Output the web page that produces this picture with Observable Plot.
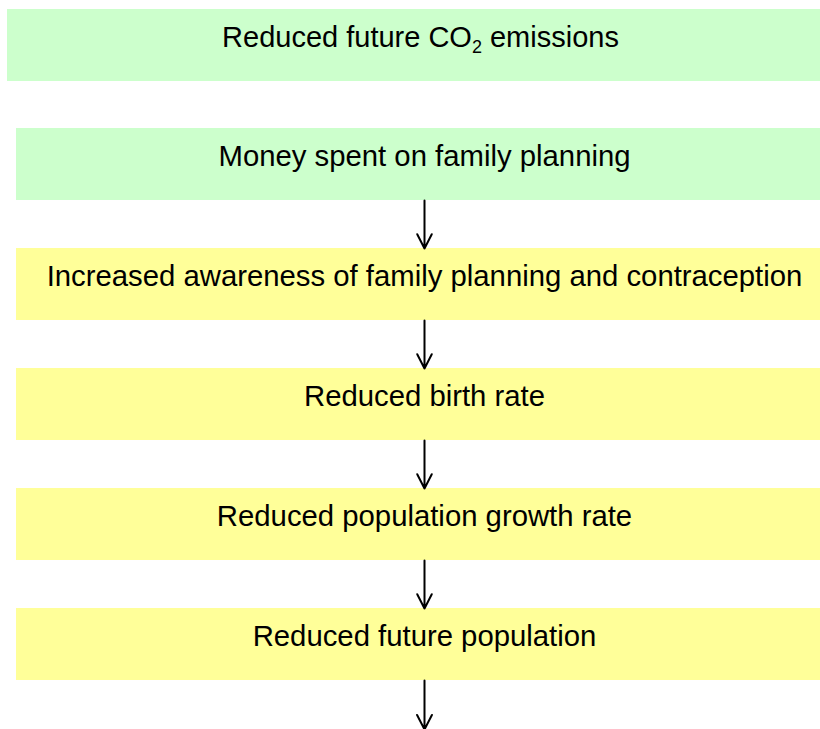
<!DOCTYPE html>
<html><head><meta charset="utf-8">
<script src="https://cdn.jsdelivr.net/npm/d3@7"></script>
<script src="https://cdn.jsdelivr.net/npm/@observablehq/plot@0.6"></script>
<style>html,body{margin:0;padding:0;background:#fff;}</style>
</head><body><div id="chart"></div>
<script>
// Flowchart steps (top to bottom)
const labels = [
  "Reduced future CO₂ emissions",
  "Money spent on family planning",
  "Increased awareness of family planning and contraception",
  "Reduced birth rate",
  "Reduced population growth rate",
  "Reduced future population"
];
// kind of each step: the goal, the action, and its effects
const kinds = ["goal", "action", "effect", "effect", "effect", "effect"];
// causal links between steps (from index -> to index; last points off the page)
const links = [[1, 2], [2, 3], [3, 4], [4, 5], [5, 6]];

const W = 820, H = 729;
const boxH = 72;
const topOf = i => i === 0 ? 9 : 128 + 120 * (i - 1);
const leftOf = i => i === 0 ? 7 : 16;
const rightOf = i => i === 0 ? 833 : 832;
const centerOf = i => (leftOf(i) + rightOf(i)) / 2;

const boxes = labels.map((label, i) => ({label, kind: kinds[i], i}));
const arrows = links.map(([a, b]) => ({a, b}));

const chart = Plot.plot({
  width: W, height: H,
  margin: 0,
  x: {domain: [0, W], range: [0, W], axis: null},
  y: {domain: [0, H], range: [0, H], axis: null},
  color: {domain: ["goal", "action", "effect"], range: ["#ccffcc", "#ccffcc", "#ffff99"]},
  style: {fontFamily: "'Liberation Sans', Arial, sans-serif", background: "#fff", overflow: "visible"},
  marks: [
    Plot.rect(boxes, {
      x1: d => leftOf(d.i), x2: d => rightOf(d.i),
      y1: d => topOf(d.i), y2: d => topOf(d.i) + boxH,
      fill: "kind"
    }),
    Plot.text(boxes, {
      x: d => centerOf(d.i), y: d => topOf(d.i) + 28,
      text: "label", fontSize: d => d.i === 0 ? 29 : 29.3,
      fill: "#000", textAnchor: "middle", lineAnchor: "middle"
    }),
    Plot.arrow(arrows, {
      x1: d => centerOf(d.a), x2: d => centerOf(d.a),
      y1: d => topOf(d.a) + boxH,
      y2: d => d.b < labels.length ? topOf(d.b) : H,
      stroke: "#000", strokeWidth: 2, headLength: 25, headAngle: 54
    })
  ]
});
document.getElementById("chart").appendChild(chart);

// render the CO₂ subscript as a real smaller, lowered tspan
d3.select(chart).selectAll("text").each(function() {
  const t = this.textContent;
  if (t.includes("₂")) {
    const [pre, post] = t.split("₂");
    const sel = d3.select(this);
    sel.text(null);
    sel.append("tspan").text(pre);
    sel.append("tspan").attr("font-size", "18px").attr("dy", "6").text("2");
    sel.append("tspan").attr("dy", "-6").text(post);
  }
});
</script>
</body></html>
